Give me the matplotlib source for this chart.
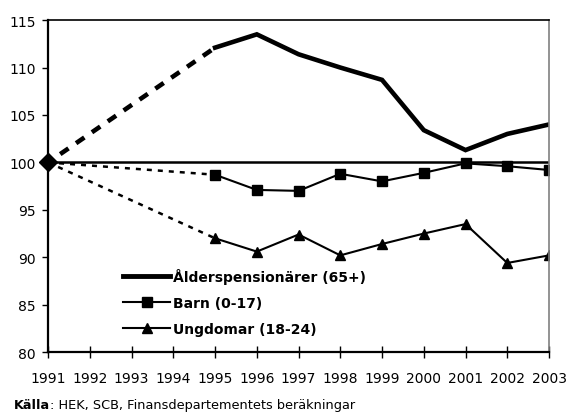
import matplotlib.pyplot as plt
from matplotlib.lines import Line2D

# Data
years = [1991, 1995, 1996, 1997, 1998, 1999, 2000, 2001, 2002, 2003]
alder = [100, 112.1, 113.5, 111.4, 110.0, 108.7, 103.4, 101.3, 103.0, 104.0]
barn = [100, 98.7, 97.1, 97.0, 98.8, 98.0, 98.9, 99.9, 99.6, 99.2]
ungdom = [100, 92.0, 90.6, 92.4, 90.2, 91.4, 92.5, 93.5, 89.4, 90.2]
labels = ['Ålderspensionärer (65+)', 'Barn (0-17)', 'Ungdomar (18-24)']
xticks = list(range(1991, 2004))

plt.rcParams['font.family'] = ['DejaVu Sans']

fig = plt.figure(figsize=(5.66, 4.14), dpi=100)
ax = fig.add_axes([0.085, 0.147, 0.885, 0.802])

# streckade delar 1991 -> 1995
ax.plot(years[:2], alder[:2], color='black', lw=3.3, ls=(1, (2.2, 2.0)))
ax.plot(years[:2], barn[:2], color='black', lw=1.8, ls=(0, (2.0, 2.4)))
ax.plot(years[:2], ungdom[:2], color='black', lw=1.8, ls=(0, (2.0, 2.4)))

ax.plot(years[1:], alder[1:], color='black', lw=3.3, solid_joinstyle='miter')
ax.plot(years[1:], barn[1:], color='black', lw=1.5, marker='s', ms=7)
ax.plot(years[1:], ungdom[1:], color='black', lw=1.5, marker='^', ms=7.5)

ax.axhline(100, color='black', lw=1.8, zorder=1)
ax.plot([years[0]], [100], marker='D', color='black', ms=9, clip_on=False, zorder=5)

ax.set_xlim(1991, 2003)
ax.set_ylim(80, 115)
ax.set_xticks(xticks)
ax.set_yticks(range(80, 116, 5))
ax.tick_params(axis='x', direction='inout', length=9, width=1, labelsize=10, pad=9)
ax.tick_params(axis='y', direction='out', length=4, width=1, labelsize=10, pad=5)

for s in ['left', 'bottom']:
    ax.spines[s].set_linewidth(1.6)
ax.spines['top'].set_linewidth(1.2)
ax.spines['right'].set_color('gray')
ax.spines['right'].set_linewidth(1.2)

handles = [
    Line2D([], [], color='black', lw=3.5),
    Line2D([], [], color='black', lw=1.5, marker='s', ms=7),
    Line2D([], [], color='black', lw=1.5, marker='^', ms=7.5),
]
leg = ax.legend(handles, labels, loc='lower left', bbox_to_anchor=(0.125, 0.012),
                frameon=False, handlelength=3.4, handletextpad=0.15,
                labelspacing=0.85, prop={'weight': 'bold', 'size': 10})

# Källa-rad: fet etikett + vanlig text direkt efter
fig.canvas.draw()
t1 = fig.text(0.024, 0.004, 'Källa', fontsize=9.3, fontweight='bold', ha='left', va='bottom')
bb = t1.get_window_extent(renderer=fig.canvas.get_renderer())
x2 = bb.x1 / fig.bbox.width
fig.text(x2, 0.004, ': HEK, SCB, Finansdepartementets beräkningar', fontsize=9.3,
         ha='left', va='bottom')

fig.savefig('out.png', dpi=100)
